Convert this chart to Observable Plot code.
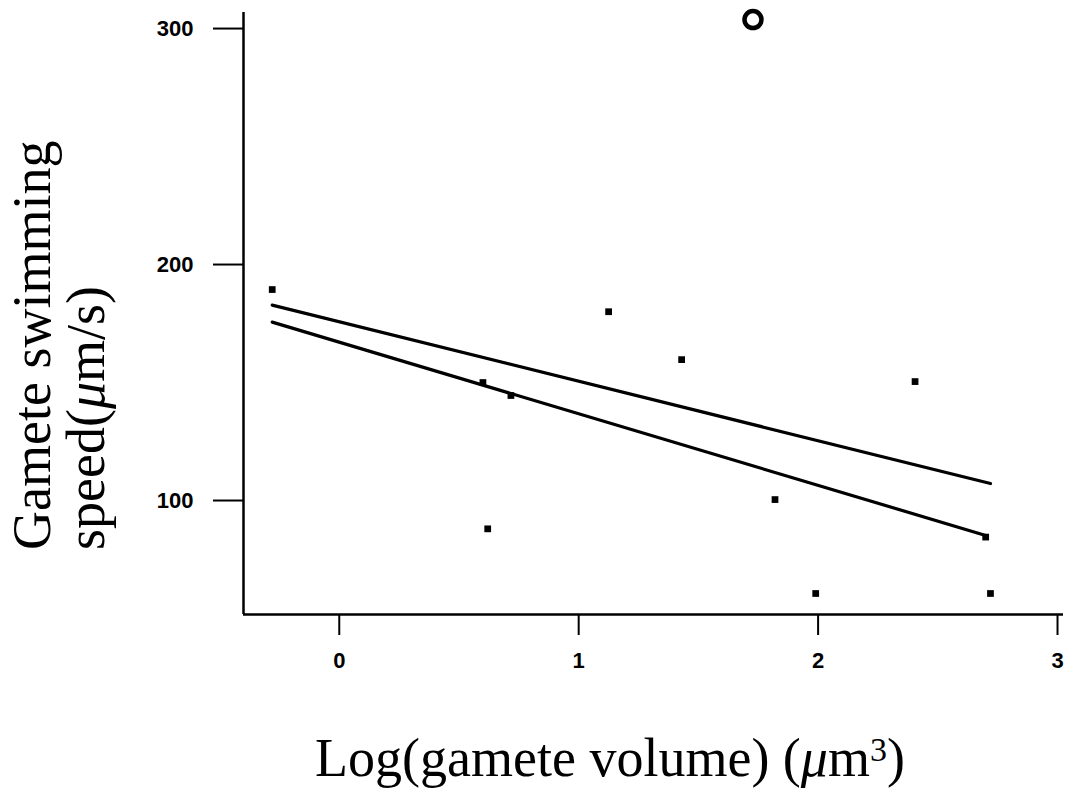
<!DOCTYPE html>
<html>
<head>
<meta charset="utf-8">
<script src="https://cdn.jsdelivr.net/npm/d3@7"></script>
<script src="https://cdn.jsdelivr.net/npm/@observablehq/plot@0.6"></script>
<style>
  html, body { margin: 0; padding: 0; background: #fff; }
  #chart { width: 1069px; height: 794px; }
</style>
</head>
<body>
<div id="chart"></div>
<script>
// Observed data (log gamete volume, swimming speed)
const logVolume = [-0.28, 0.60, 0.62, 0.717, 1.125, 1.43, 1.82, 1.99, 2.405, 2.70, 2.72];
const speed     = [189.4, 150, 88, 144.5, 180, 159.7, 100.4, 60.6, 150.4, 84.5, 60.6];
// Outlier (open circle)
const outlierVolume = [1.728];
const outlierSpeed  = [303.8];
// Fitted lines (endpoints)
const upperLineX = [-0.28, 2.72];
const upperLineY = [182.8, 107.2];
const lowerLineX = [-0.28, 2.70];
const lowerLineY = [175.6, 85.2];
// Axes
const xTicks = [0, 1, 2, 3];
const yTicks = [100, 200, 300];
const xDomain = [-0.40, 3.025];
const yDomain = [51.7, 306.8];

const points = logVolume.map((x, i) => ({x, y: speed[i]}));
const outlier = outlierVolume.map((x, i) => ({x, y: outlierSpeed[i]}));
const upper = upperLineX.map((x, i) => ({x, y: upperLineY[i]}));
const lower = lowerLineX.map((x, i) => ({x, y: lowerLineY[i]}));

const plot = Plot.plot({
  width: 1069,
  height: 794,
  marginLeft: 243,
  marginRight: 6,
  marginTop: 12,
  marginBottom: 180,
  style: {fontFamily: "'Liberation Sans', Arial, sans-serif", fontSize: "22px", color: "black", background: "white"},
  x: {domain: xDomain},
  y: {domain: yDomain},
  marks: [
    Plot.axisX({ticks: xTicks, tickFormat: d3.format("d"), tickSize: 21, tickPadding: 17, label: null, strokeWidth: 2}),
    Plot.axisY({ticks: yTicks, tickFormat: d3.format("d"), tickSize: 30, tickPadding: 20, label: null, strokeWidth: 2}),
    Plot.ruleX([xDomain[0]], {stroke: "black", strokeWidth: 2.5}),
    Plot.ruleY([yDomain[0]], {stroke: "black", strokeWidth: 2.5}),
    Plot.line(upper, {x: "x", y: "y", stroke: "black", strokeWidth: 3.2}),
    Plot.line(lower, {x: "x", y: "y", stroke: "black", strokeWidth: 3.2}),
    Plot.dot(points, {x: "x", y: "y", symbol: "square", r: 3.8, fill: "black", stroke: "none"}),
    Plot.dot(outlier, {x: "x", y: "y", r: 8.5, fill: "none", stroke: "black", strokeWidth: 4.5})
  ]
});

document.getElementById("chart").appendChild(plot);

const svg = d3.select(plot);
svg.selectAll('g[aria-label="x-axis tick label"] text, g[aria-label="y-axis tick label"] text')
  .style("font-size", "22px")
  .style("font-weight", "bold");

const serif = "'Liberation Serif', 'Times New Roman', serif";

// X axis label
const xl = svg.append("text")
  .attr("x", 610).attr("y", 776)
  .attr("text-anchor", "middle")
  .attr("font-family", serif)
  .attr("font-size", 54)
  .attr("fill", "black");
xl.append("tspan").text("Log(gamete volume) (");
xl.append("tspan").attr("font-style", "italic").text("\u03bc");
xl.append("tspan").text("m");
xl.append("tspan").attr("font-size", 34).attr("dy", -15).text("3");
xl.append("tspan").attr("dy", 15).text(")");

// Y axis label (two lines, rotated)
const yl = svg.append("text")
  .attr("transform", "translate(50,550) rotate(-90)")
  .attr("text-anchor", "start")
  .attr("font-family", serif)
  .attr("font-size", 54)
  .attr("fill", "black");
yl.append("tspan").attr("x", 0).attr("y", 0).text("Gamete swimming");
const l2 = yl.append("tspan").attr("x", 0).attr("y", 54);
l2.append("tspan").text("speed(");
yl.append("tspan").attr("font-style", "italic").text("\u03bc");
yl.append("tspan").text("m/s)");
</script>
</body>
</html>
